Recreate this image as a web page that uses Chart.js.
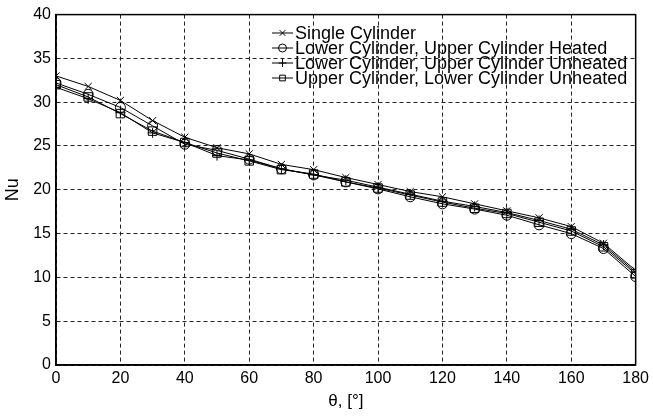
<!DOCTYPE html>
<html>
<head>
<meta charset="utf-8">
<script src="https://cdn.jsdelivr.net/npm/chart.js@4.4.0/dist/chart.umd.min.js"></script>
<style>
html, body { margin: 0; padding: 0; background: #fff; }
#wrap { width: 653px; height: 418px; }
</style>
</head>
<body>
<div id="wrap"><canvas id="nuChart"></canvas></div>
<script>
// angle around the cylinder, degrees
const theta = [0, 10, 20, 30, 40, 50, 60, 70, 80, 90, 100, 110, 120, 130, 140, 150, 160, 170, 180];

// local Nusselt number for each configuration
const nuSingle        = [33.0, 31.8, 30.2, 27.9, 26.0, 24.8, 24.1, 22.9, 22.3, 21.4, 20.6, 19.8, 19.2, 18.4, 17.6, 16.8, 15.8, 13.9, 10.8];
const nuLowerHeated   = [32.2, 30.9, 29.4, 27.3, 25.2, 24.5, 23.5, 22.4, 21.7, 20.9, 20.1, 19.2, 18.4, 17.8, 17.1, 16.0, 15.0, 13.3, 10.1];
const nuLowerUnheated = [31.7, 30.4, 28.8, 26.5, 25.4, 23.9, 23.4, 22.4, 21.7, 21.1, 20.3, 19.5, 18.7, 18.1, 17.4, 16.5, 15.5, 13.7, 10.6];
const nuUpperUnheated = [32.0, 30.6, 28.7, 26.7, 25.4, 24.2, 23.3, 22.3, 21.8, 20.9, 20.2, 19.4, 18.6, 17.9, 17.3, 16.3, 15.3, 13.5, 10.4];

const seriesLabels = [
    'Single Cylinder',
    'Lower Cylinder, Upper Cylinder Heated',
    'Lower Cylinder, Upper Cylinder Unheated',
    'Upper Cylinder, Lower Cylinder Unheated'
];
const seriesValues = [nuSingle, nuLowerHeated, nuLowerUnheated, nuUpperUnheated];
const markers = ['crossRot', 'circle', 'cross', 'rect'];
const markerSize = [5, 5, 5, 6];

const FONT = '"Liberation Sans", Arial, Helvetica, sans-serif';

const datasets = seriesValues.map((vals, i) => ({
    label: seriesLabels[i],
    data: vals.map((v, j) => ({ x: theta[j], y: v })),
    borderColor: '#000',
    borderWidth: 1,
    pointStyle: markers[i],
    pointRadius: markerSize[i],
    pointBorderColor: '#000',
    pointBackgroundColor: 'rgba(0,0,0,0)',
    pointBorderWidth: 1,
    tension: 0,
    fill: false
}));

// legend drawn inside the plot box, line + marker samples
const insideLegend = {
    id: 'insideLegend',
    afterDatasetsDraw(chart) {
        const ctx = chart.ctx;
        ctx.save();
        ctx.font = '18px ' + FONT;
        ctx.textBaseline = 'middle';
        chart.data.datasets.forEach((ds, i) => {
            const y = 33 + i * 15;
            ctx.setLineDash([]);
            ctx.strokeStyle = '#000';
            ctx.lineWidth = 1;
            ctx.beginPath();
            ctx.moveTo(272, y);
            ctx.lineTo(293, y);
            ctx.stroke();
            ctx.fillStyle = 'rgba(0,0,0,0)';
            Chart.helpers.drawPoint(ctx, { pointStyle: ds.pointStyle, radius: 4, borderWidth: 1, rotation: 0 }, 282.5, y);
            ctx.fillStyle = '#000';
            ctx.fillText(ds.label, 295, y + 1);
        });
        ctx.restore();
    }
};

// solid box round the plot area
const plotFrame = {
    id: 'plotFrame',
    afterDraw(chart) {
        const a = chart.chartArea;
        const ctx = chart.ctx;
        ctx.save();
        ctx.setLineDash([]);
        ctx.strokeStyle = '#000';
        ctx.lineWidth = 1.5;
        ctx.strokeRect(a.left, a.top, a.right - a.left, a.bottom - a.top);
        ctx.restore();
    }
};

const ctx = document.getElementById('nuChart').getContext('2d');
const nuChart = new Chart(ctx, {
    type: 'line',
    data: { datasets: datasets },
    options: {
        responsive: true,
        maintainAspectRatio: false,
        animation: false,
        layout: { padding: { left: 0, right: 16, top: 13, bottom: 0 } },
        plugins: {
            legend: { display: false },
            tooltip: { enabled: false }
        },
        scales: {
            x: {
                type: 'linear',
                min: 0,
                max: 180,
                afterFit(scale) { scale.height = 53; },
                ticks: { stepSize: 20, padding: 4, color: '#000', font: { family: FONT, size: 16 } },
                grid: { color: '#222', lineWidth: 1, drawTicks: false },
                border: { display: true, color: '#000', width: 1.5, dash: [4, 3] },
                title: { display: true, text: 'θ, [°]', color: '#000', font: { family: FONT, size: 17 }, padding: { top: 2, bottom: 6 } }
            },
            y: {
                min: 0,
                max: 40,
                afterFit(scale) { scale.width = 56; },
                ticks: { stepSize: 5, padding: 5, color: '#000', font: { family: FONT, size: 16 } },
                grid: { color: '#222', lineWidth: 1, drawTicks: false },
                border: { display: true, color: '#000', width: 1.5, dash: [4, 3] },
                title: { display: true, text: 'Nu', color: '#000', font: { family: FONT, size: 18 }, padding: { top: 2, bottom: 0 } }
            }
        }
    },
    plugins: [insideLegend, plotFrame]
});
</script>
</body>
</html>
